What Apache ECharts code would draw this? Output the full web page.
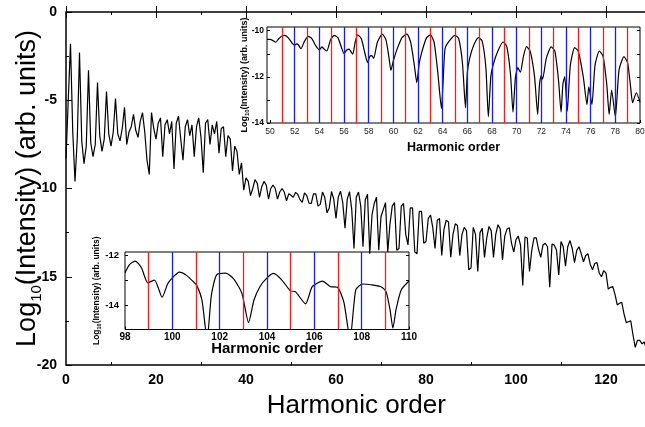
<!DOCTYPE html>
<html>
<head>
<meta charset="utf-8">
<title>HHG spectrum</title>
<script src="https://cdn.jsdelivr.net/npm/echarts@6/dist/echarts.min.js"></script>
<style>
  html, body { margin: 0; padding: 0; background: #fff; }
  #chart { width: 645px; height: 427px; }
</style>
</head>
<body>
<div id="chart"></div>
<script>
// main spectrum, read every 0.5 harmonic from 0 to 129
const mainStart = 0;
const mainStep = 0.5;
const mainLogI = [
  -8.3, -5.0, -1.8, -6.8, -9.6, -7.2, -2.3, -7.3, -8.6, -7.6,
  -3.3, -7.4, -8.2, -7.5, -4.0, -7.0, -7.9, -7.2, -4.5, -6.9,
  -7.6, -6.8, -4.9, -6.9, -7.3, -6.6, -5.4, -7.5, -6.8, -6.5,
  -5.8, -6.7, -7.1, -6.2, -5.7, -6.8, -8.4, -9.2, -5.7, -6.6,
  -7.2, -6.3, -6.0, -8.2, -6.4, -6.1, -6.9, -6.2, -8.9, -6.3,
  -5.9, -7.2, -8.4, -6.5, -6.1, -7.0, -6.4, -8.2, -6.5, -6.0,
  -7.1, -9.1, -6.3, -6.1, -7.5, -6.4, -6.9, -6.2, -8.0, -6.6,
  -6.5, -8.2, -7.0, -7.2, -9.0, -7.6, -7.9, -9.2, -8.55, -10.1,
  -9.4, -9.6, -10.4, -10.0, -9.5, -9.7, -10.5, -9.9, -9.6, -9.8,
  -10.6, -10.0, -9.8, -10.0, -10.6, -10.2, -10.0, -10.2, -10.7, -10.3,
  -10.38, -10.5, -10.22, -10.32, -10.63, -10.78, -10.25, -10.4, -10.83, -10.85,
  -10.3, -10.3, -11.0, -10.9, -10.2, -10.5, -11.38, -11.1, -10.17, -10.6,
  -11.7, -10.5, -10.15, -10.8, -12.25, -10.6, -10.18, -11.2, -13.4, -10.5,
  -10.2, -11.0, -13.3, -10.65, -10.32, -13.7, -11.5, -10.85, -10.5, -13.5,
  -11.6, -11.2, -10.8, -13.6, -12.0, -11.0, -10.8, -13.5, -13.4, -11.0,
  -10.85, -12.6, -13.2, -11.1, -11.1, -13.6, -13.7, -11.3, -11.3, -13.1,
  -13.0, -11.7, -11.5, -12.2, -13.4, -11.8, -11.7, -13.8, -12.3, -11.8,
  -11.9, -13.9, -12.6, -12.0, -12.1, -13.8, -12.6, -12.2, -12.4, -14.6,
  -14.5, -12.2, -12.6, -14.7, -12.5, -12.26, -13.9, -12.8, -12.15, -12.4,
  -13.9, -12.6, -12.05, -12.3, -14.05, -12.7, -12.3, -12.22, -13.1, -13.6,
  -12.9, -12.7, -13.2, -15.5, -12.75, -12.8, -14.7, -13.5, -12.8, -12.8,
  -13.43, -13.9, -13.2, -13.1, -13.3, -15.6, -13.15, -13.2, -13.5, -14.9,
  -13.0, -13.3, -14.4, -13.3, -12.95, -13.4, -14.2, -13.5, -13.3, -13.7,
  -14.15, -13.8, -13.7, -14.3, -14.6, -14.25, -14.2, -14.8, -15.0, -14.65,
  -14.8, -15.7, -15.6, -15.55, -16.0, -16.6, -16.5, -16.45, -17.1, -17.6,
  -17.55, -17.5, -18.3, -19.0, -18.6, -18.6, -18.8, -18.7, -19.1
];
const mainXTicks = [0, 20, 40, 60, 80, 100, 120];
const mainXMinor = [10, 30, 50, 70, 90, 110];

// inset A: harmonics 50-80
const zoomAH = [
  49.75, 50.0, 50.2, 50.45, 50.7, 51.0, 51.2, 51.5, 51.8, 52.0, 52.15, 52.3, 52.5, 52.8,
  53.1, 53.4, 53.7, 54.0, 54.2, 54.35, 54.6, 54.9, 55.2, 55.5, 55.8, 56.0, 56.2, 56.4,
  56.7, 56.9, 57.1, 57.4, 57.7, 57.9, 58.1, 58.25, 58.4, 58.7, 59.1, 59.4, 59.65, 59.8,
  60.0, 60.3, 60.7, 61.1, 61.4, 61.7, 61.9, 62.1, 62.4, 62.7, 63.0, 63.3, 63.6, 63.9,
  64.05, 64.2, 64.6, 65.0, 65.3, 65.6, 65.85, 66.0, 66.2, 66.5, 66.9, 67.2, 67.5, 67.7,
  67.9, 68.1, 68.5, 68.9, 69.2, 69.5, 69.7, 69.9, 70.1, 70.3, 70.55, 70.8, 71.1, 71.45,
  71.7, 71.85, 72.0, 72.1, 72.4, 72.8, 73.1, 73.4, 73.6, 73.75, 73.9, 74.1, 74.35, 74.7,
  75.0, 75.4, 75.7, 75.85, 76.1, 76.35, 76.7, 77.0, 77.3, 77.5, 77.7, 78.0, 78.3, 78.7,
  79.0, 79.25, 79.4, 79.7, 80.0
];
const zoomALogI = [
  -10.38, -10.38, -10.42, -10.5, -10.35, -10.22, -10.2, -10.32, -10.55, -10.63, -10.57, -10.62, -10.78, -10.45,
  -10.25, -10.35, -10.65, -10.83, -10.7, -10.78, -10.88, -10.4, -10.2, -10.3, -10.75, -11.0, -10.85, -10.8,
  -11.02, -10.5, -10.18, -10.35, -11.0, -11.38, -11.1, -11.08, -11.2, -10.5, -10.15, -10.4, -11.2, -11.72,
  -11.3, -10.8, -10.3, -10.15, -10.5, -11.5, -12.25, -11.4, -10.75, -10.3, -10.18, -10.5, -11.8, -13.38,
  -12.0, -10.75, -10.4, -10.2, -10.35, -11.4, -13.34, -11.8, -11.17, -10.65, -10.3, -10.45, -11.6, -13.73,
  -12.0, -11.46, -10.85, -10.49, -10.7, -11.9, -13.53, -12.0, -11.6, -11.8, -11.1, -10.69, -10.9, -12.0,
  -13.63, -12.3, -11.93, -12.1, -11.2, -10.7, -10.9, -12.2, -13.53, -12.3, -11.99, -13.49, -11.5, -10.73,
  -10.9, -12.0, -13.2, -12.43, -13.2, -11.5, -10.88, -11.1, -12.3, -13.63, -12.57, -13.73, -11.7, -11.12,
  -11.4, -12.5, -13.12, -12.69, -13.1
];
const zoomAOdd = [51, 53, 55, 57, 59, 61, 63, 65, 67, 69, 71, 73, 75, 77, 79];
const zoomAEven = [52, 54, 56, 58, 60, 62, 64, 66, 68, 70, 72, 74, 76, 78];
const zoomAXTicks = [50, 52, 54, 56, 58, 60, 62, 64, 66, 68, 70, 72, 74, 76, 78, 80];
const zoomAYLabels = [-14, -12, -10];
const zoomAYTicks = [-14, -13, -12, -11, -10];

// inset B: harmonics 98-110
const zoomBH = [
  98.0, 98.2, 98.44, 98.7, 98.96, 99.25, 99.57, 99.8, 99.98, 100.3, 100.6, 100.88, 101.03,
  101.25, 101.47, 101.65, 101.87, 102.26, 102.6, 102.94, 103.22, 103.45, 103.7, 104.0,
  104.28, 104.63, 104.99, 105.2, 105.63, 105.91, 106.34, 106.69, 106.98, 107.25, 107.51,
  107.75, 108.04, 108.4, 108.82, 109.03, 109.2, 109.32, 109.45, 109.67, 110.0
];
const zoomBLogI = [
  -12.69, -12.35, -12.22, -12.5, -13.1, -12.99, -13.69, -13.15, -12.92, -12.67, -12.8, -13.05, -13.2,
  -13.8, -15.4, -13.6, -12.78, -12.71, -12.95, -13.53, -14.72, -13.8, -13.26, -12.9,
  -12.72, -12.99, -13.43, -13.46, -13.96, -13.26, -13.03, -13.26, -13.28, -13.9, -15.4,
  -13.39, -13.15, -13.18, -13.26, -13.46, -14.2, -14.95, -14.2, -13.39, -13.03
];
const zoomBOdd = [99, 101, 103, 105, 107, 109];
const zoomBEven = [100, 102, 104, 106, 108];
const zoomBXTicks = [98, 100, 102, 104, 106, 108, 110];
const zoomBYLabels = [-14, -12];
const zoomBYTicks = [-15, -14, -13, -12];

const FONT = 'Arial, "Liberation Sans", sans-serif';
const RED = '#ff1a1a';
const BLUE = '#1a1aff';

const chart = echarts.init(document.getElementById('chart'), null, { renderer: 'canvas' });

function pairs(xs, ys) {
  return xs.map((x, i) => [x, ys[i]]);
}
const mainData = mainLogI.map((v, i) => [mainStart + i * mainStep, v]);

// y axis title with subscript 10
function logName(size, subSize, weight) {
  return {
    color: '#000',
    fontFamily: FONT,
    rich: {
      a: { fontSize: size, fontWeight: weight, fontFamily: FONT, color: '#000', lineHeight: Math.round(size * 1.2) },
      s: { fontSize: subSize, fontWeight: weight, fontFamily: FONT, color: '#000', lineHeight: Math.round(subSize * 0.8), verticalAlign: 'bottom' },
    },
  };
}
const LOG_NAME = '{a|Log}{s|10}{a|(Intensity) (arb. units)}';

function tickAxis(gridIndex, pos, min, max, ticks, len, extra) {
  return Object.assign({
    type: 'value', gridIndex: gridIndex, position: pos, min: min, max: max,
    nameMoveOverlap: false,
    axisLine: { show: false },
    axisTick: { inside: true, length: len, customValues: ticks, lineStyle: { color: '#000', width: 1 } },
    axisLabel: { show: false },
    splitLine: { show: false },
  }, extra || {});
}

function vlines(xIdx, yIdx, hs, color) {
  return {
    type: 'line', xAxisIndex: xIdx, yAxisIndex: yIdx, data: [], z: 1, silent: true,
    markLine: {
      silent: true, symbol: ['none', 'none'], animation: false,
      label: { show: false },
      lineStyle: { color: color, type: 'solid', width: 1.3 },
      data: hs.map((h) => ({ xAxis: h })),
    },
  };
}

const option = {
  animation: false,
  backgroundColor: '#fff',
  grid: [
    { left: 66, top: 12, width: 580.5, height: 353, outerBoundsMode: 'none', show: true, borderColor: '#000', borderWidth: 1.5, backgroundColor: 'transparent' },
    { left: 267, top: 27, width: 373, height: 96, outerBoundsMode: 'none', show: true, borderColor: '#000', borderWidth: 1, backgroundColor: '#fff' },
    { left: 125, top: 252, width: 284, height: 77.5, outerBoundsMode: 'none', show: true, borderColor: '#000', borderWidth: 1, backgroundColor: '#fff' },
  ],
  xAxis: [
    tickAxis(0, 'bottom', 0, 129, mainXTicks, 6, {
      axisLabel: { show: true, customValues: mainXTicks, color: '#000', fontFamily: FONT, fontWeight: 'bold', fontSize: 14, margin: 8 },
      name: 'Harmonic order', nameLocation: 'middle', nameGap: 28,
      nameTextStyle: { color: '#000', fontFamily: FONT, fontSize: 26 },
    }),
    tickAxis(0, 'bottom', 0, 129, mainXMinor, 3),
    tickAxis(0, 'top', 0, 129, mainXTicks, 6),
    tickAxis(0, 'top', 0, 129, mainXMinor, 3),
    tickAxis(1, 'bottom', 49.75, 80, zoomAXTicks, 3, {
      axisLabel: { show: true, customValues: zoomAXTicks, color: '#222', fontFamily: FONT, fontSize: 8.5, margin: 4 },
      name: 'Harmonic order', nameLocation: 'middle', nameGap: 18,
      nameTextStyle: { color: '#000', fontFamily: FONT, fontSize: 12.5, fontWeight: 'bold' },
    }),
    tickAxis(2, 'bottom', 98, 110, zoomBXTicks, 3, {
      axisLabel: { show: true, customValues: zoomBXTicks, color: '#000', fontFamily: FONT, fontWeight: 'bold', fontSize: 10, margin: 3 },
      name: 'Harmonic order', nameLocation: 'middle', nameGap: 12,
      nameTextStyle: { color: '#000', fontFamily: FONT, fontSize: 15, fontWeight: 'bold' },
    }),
  ],
  yAxis: [
    {
      type: 'value', gridIndex: 0, min: -20, max: 0, interval: 5,
      nameMoveOverlap: false,
      axisLine: { show: false },
      axisTick: { inside: true, length: 6, lineStyle: { color: '#000', width: 1 } },
      minorTick: { show: true, splitNumber: 2, length: 3, lineStyle: { color: '#000', width: 1 } },
      axisLabel: { color: '#000', fontFamily: FONT, fontWeight: 'bold', fontSize: 14, margin: 9 },
      splitLine: { show: false },
      name: LOG_NAME, nameLocation: 'middle', nameRotate: 90, nameGap: 22,
      nameTextStyle: logName(27, 15, 'normal'),
    },
    tickAxis(1, 'left', -14, -9.84, zoomAYTicks, 3, {
      axisLabel: { show: true, customValues: zoomAYLabels, color: '#000', fontFamily: FONT, fontWeight: 'bold', fontSize: 8.5, margin: 3 },
      name: LOG_NAME, nameLocation: 'middle', nameRotate: 90, nameGap: 17,
      nameTextStyle: logName(9, 6, 'bold'),
    }),
    tickAxis(1, 'right', -14, -9.84, zoomAYTicks, 3),
    tickAxis(2, 'left', -15, -11.85, zoomBYTicks, 3, {
      axisLabel: { show: true, customValues: zoomBYLabels, color: '#000', fontFamily: FONT, fontWeight: 'bold', fontSize: 9.5, margin: 6 },
      name: LOG_NAME, nameLocation: 'middle', nameRotate: 90, nameGap: 23,
      nameTextStyle: logName(8.5, 5.5, 'bold'),
    }),
    tickAxis(2, 'right', -15, -11.85, zoomBYTicks, 3),
  ],
  series: [
    {
      type: 'line', xAxisIndex: 0, yAxisIndex: 0, data: mainData, z: 2,
      showSymbol: false, symbol: 'none',
      lineStyle: { color: '#000', width: 1.2 },
    },
    vlines(4, 1, zoomAOdd, RED),
    vlines(4, 1, zoomAEven, BLUE),
    {
      type: 'line', xAxisIndex: 4, yAxisIndex: 1, data: pairs(zoomAH, zoomALogI), z: 3,
      showSymbol: false, symbol: 'none', smooth: 0.2,
      lineStyle: { color: '#000', width: 1.2 },
    },
    vlines(5, 3, zoomBOdd, RED),
    vlines(5, 3, zoomBEven, BLUE),
    {
      type: 'line', xAxisIndex: 5, yAxisIndex: 3, data: pairs(zoomBH, zoomBLogI), z: 3,
      showSymbol: false, symbol: 'none', smooth: 0.2,
      lineStyle: { color: '#000', width: 1.2 },
    },
  ],
};

chart.setOption(option);
</script>
</body>
</html>
